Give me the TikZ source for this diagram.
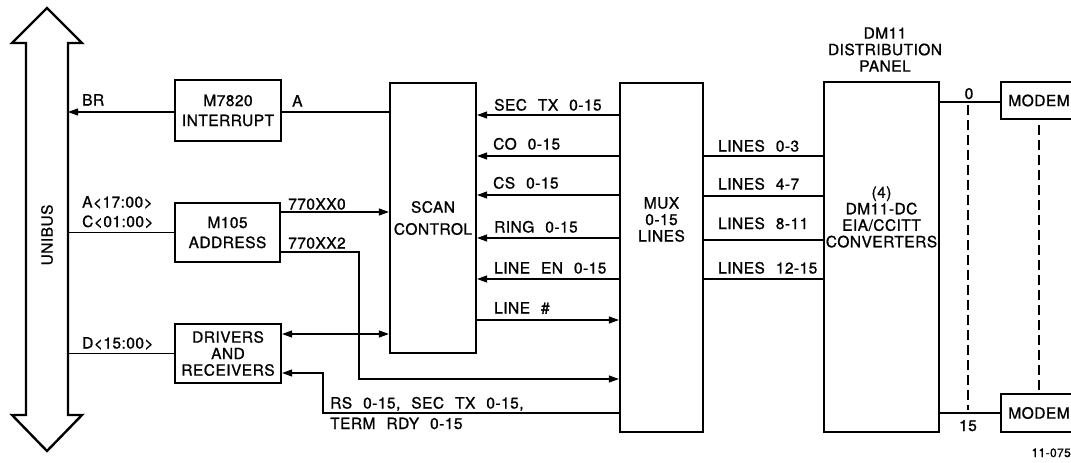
\documentclass[tikz,border=0pt]{standalone}
\usepackage{fontspec}
\setmainfont{TeX Gyre Heros}
\newfontfamily\lettrfam[LetterSpace=3,WordSpace=2.3,FakeBold=1]{TeX Gyre Heros}
\newcommand\lettr{\lettrfam\fontsize{15.5}{20}\selectfont}
\newcommand\lettrs{\lettrfam\fontsize{15.5}{16.5}\selectfont}
\newcommand\lettrw{\lettrfam\fontsize{15.5}{22}\selectfont}
\usetikzlibrary{arrows.meta}
\begin{document}
\begin{tikzpicture}[x=1pt,y=-1pt,
  box/.style={draw, line width=2.2pt, inner sep=0pt, align=center, font=\lettr},
  conn/.style={line width=1.1pt},
  arr/.style={conn,-{Triangle[length=10pt,width=7pt]}},
  darr/.style={conn,{Triangle[length=10pt,width=7pt]}-{Triangle[length=10pt,width=7pt]}},
  lbl/.style={anchor=base west, inner sep=0pt, font=\lettr},
  txt/.style={inner sep=0pt, align=center, font=\lettrs},
  dsh/.style={line width=1.1pt, dash pattern=on 10pt off 5pt}
]
\clip (0,0) rectangle (1071,463);
\fill[white] (0,0) rectangle (1071,463);

% UNIBUS double arrow
\draw[line width=2.4pt, line join=miter]
  (47,8) -- (82,43) -- (68,43) -- (68,415) -- (82,415) -- (47,451)
  -- (12,415) -- (26,415) -- (26,43) -- (12,43) -- cycle;
\coordinate (busR) at (68,0);
\node[inner sep=0pt, rotate=90, font=\lettr] (unibus) at (47,235) {UNIBUS};

% boxes
\node[box, minimum width=106pt, minimum height=61pt] (m7820) at (228,110.5) {M7820\\INTERRUPT};
\node[box, minimum width=105pt, minimum height=59pt] (m105) at (227.5,232.5) {M105\\ADDRESS};
\node[box, minimum width=106pt, minimum height=59pt, font=\lettrs] (drv) at (228,353.5) {DRIVERS\\AND\\RECEIVERS};
\node[box, minimum width=86pt, minimum height=270pt, font=\lettrw] (scan) at (433,218) {SCAN\\CONTROL};
\node[box, minimum width=83pt, minimum height=349pt] (mux) at (661.5,257.5) {};
\node[txt] (muxt) at (661.5,219.5) {MUX\\0-15\\LINES};
\node[box, minimum width=115pt, minimum height=350pt] (dm) at (881.5,257) {};
\node[txt] (dmt) at (881.5,217) {(4)\\DM11-DC\\EIA/CCITT\\CONVERTERS};
\node[txt] (dmtitle) at (885,49.5) {DM11\\DISTRIBUTION\\PANEL};
\node[box, minimum width=76pt, minimum height=37pt] (modemA) at (1039,100.5) {MODEM};
\node[box, minimum width=76pt, minimum height=38pt] (modemB) at (1039,413) {MODEM};

% left side connectors
\draw[arr] (m7820.west |- 0,112) -- (busR |- 0,112);
\node[lbl] (lbr) at (82,105.5) {BR};
\draw[conn] (m7820.east |- 0,112) -- (scan.west |- 0,112);
\node[lbl] (la) at (292,106.5) {A};

\draw[conn] (m105.west) -- (m105.west -| busR);
\node[lbl] (la17) at (82,207.5) {A<17:00>};
\node[lbl] (lc01) at (82,227) {C<01:00>};
\draw[arr] (m105.east |- 0,212) -- (scan.west |- 0,212);
\node[lbl] (l770a) at (288,209.5) {770XX0};
\node[lbl] (l770b) at (288,248.5) {770XX2};
\draw[arr] (m105.east |- 0,252) -| (359,379) -- (mux.west |- 0,379);

\draw[conn] (drv.west) -- (drv.west -| busR);
\node[lbl] (ld15) at (82,348.5) {D<15:00>};
\draw[darr] (drv.east |- 0,334) -- (scan.west |- 0,334);
\draw[arr] (mux.west |- 0,413) -| (323,373) -- (drv.east |- 0,373);
\node[lbl] (lrs) at (330,408.5) {RS 0-15, SEC TX 0-15,};
\node[lbl] (lterm) at (330,429) {TERM RDY 0-15};

% mux to scan
\draw[arr] (mux.west |- 0,115) -- (scan.east |- 0,115);
\node[lbl] (lsec) at (494,110.5) {SEC TX 0-15};
\draw[arr] (mux.west |- 0,156) -- (scan.east |- 0,156);
\node[lbl] (lco) at (493,149.5) {CO 0-15};
\draw[arr] (mux.west |- 0,195) -- (scan.east |- 0,195);
\node[lbl] (lcs) at (493,188.5) {CS 0-15};
\draw[arr] (mux.west |- 0,238) -- (scan.east |- 0,238);
\node[lbl] (lring) at (494,232.5) {RING 0-15};
\draw[arr] (mux.west |- 0,279) -- (scan.east |- 0,279);
\node[lbl] (len) at (494,273.5) {LINE EN 0-15};
\draw[arr] (scan.east |- 0,320) -- (mux.west |- 0,320);
\node[lbl] (lnum) at (494,313.5) {LINE \#};

% mux to dm
\draw[conn] (mux.east |- 0,156) -- (dm.west |- 0,156);
\node[lbl] (l03) at (718,151.5) {LINES 0-3};
\draw[conn] (mux.east |- 0,196) -- (dm.west |- 0,196);
\node[lbl] (l47) at (718,189.5) {LINES 4-7};
\draw[conn] (mux.east |- 0,240) -- (dm.west |- 0,240);
\node[lbl] (l811) at (718,229) {LINES 8-11};
\draw[conn] (mux.east |- 0,279) -- (dm.west |- 0,279);
\node[lbl] (l1215) at (718,273.5) {LINES 12-15};

% dm to modems
\draw[conn] (dm.east |- 0,102) -- (modemA.west |- 0,102);
\node[inner sep=0pt, anchor=base, font=\lettr] (l0) at (969,99) {0};
\draw[conn] (dm.east |- 0,413) -- (modemB.west |- 0,413);
\node[inner sep=0pt, anchor=base, font=\lettr] (l15) at (968,431) {15};
\draw[dsh] (968,105) -- (968,410);
\draw[dsh] ([yshift=-5pt]modemA.south) -- ([yshift=3pt]modemB.north);

\node[inner sep=0pt, anchor=base east, font=\lettrfam\fontsize{12}{13}\selectfont] (fig) at (1071,457) {11-075};
\end{tikzpicture}
\end{document}
